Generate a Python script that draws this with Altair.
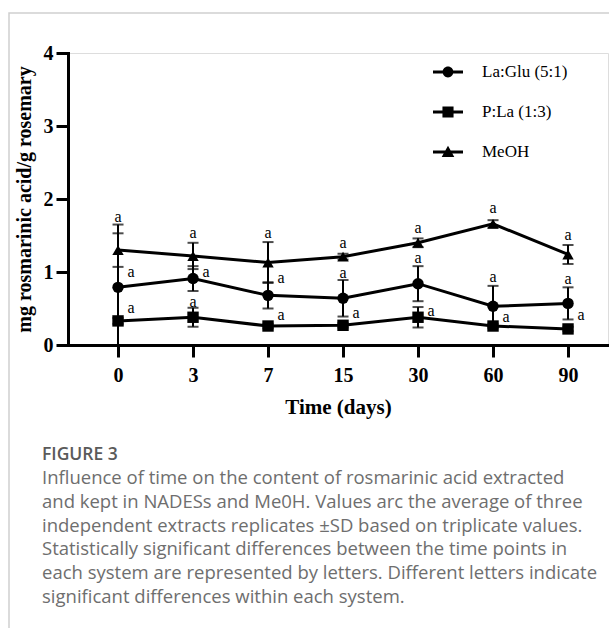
import json
import altair as alt
import pandas as pd

# ---------------- data ----------------
days = ["0", "3", "7", "15", "30", "60", "90"]
series = ["La:Glu (5:1)", "P:La (1:3)", "MeOH"]

laglu_mean = [0.79, 0.91, 0.68, 0.64, 0.84, 0.53, 0.57]
laglu_sd = [0.86, 0.17, 0.18, 0.25, 0.24, 0.28, 0.22]
pla_mean = [0.33, 0.38, 0.26, 0.27, 0.38, 0.26, 0.22]
pla_sd = [0.04, 0.13, 0.03, 0.03, 0.14, 0.03, 0.03]
meoh_mean = [1.30, 1.22, 1.13, 1.21, 1.40, 1.66, 1.24]
meoh_sd = [0.23, 0.18, 0.28, 0.04, 0.06, 0.05, 0.13]

# significance letters: time-point index, value at which the letter sits, side
letter_idx = [0, 0, 0, 1, 1, 1, 2, 2, 2, 3, 3, 3, 4, 4, 4, 5, 5, 5, 6, 6, 6]
letter_value = [1.75, 1.00, 0.51, 1.53, 1.00, 0.59, 1.53, 0.92, 0.41,
                1.40, 0.99, 0.44, 1.60, 1.19, 0.47, 1.88, 0.93, 0.38,
                1.51, 0.90, 0.41]
letter_side = ["top", "right", "right", "top", "right", "top", "top", "right", "right",
               "top", "top", "right", "top", "top", "right", "top", "top", "right",
               "top", "top", "right"]
letter_text = ["a"] * 21

caption_title = "FIGURE 3"
caption_lines = [
    "Influence of time on the content of rosmarinic acid extracted",
    "and kept in NADESs and Me0H. Values arc the average of three",
    "independent extracts replicates \u00b1SD based on triplicate values.",
    "Statistically significant differences between the time points in",
    "each system are represented by letters. Different letters indicate",
    "significant differences within each system.",
]

# ---------------- tables ----------------
rows = []
for name, means, sds in [(series[0], laglu_mean, laglu_sd),
                         (series[1], pla_mean, pla_sd),
                         (series[2], meoh_mean, meoh_sd)]:
    for i, (m, s) in enumerate(zip(means, sds)):
        rows.append({"i": i, "day": days[i], "series": name, "mean": m,
                     "lo": max(0.0, m - s), "hi": m + s})
df = pd.DataFrame(rows)

letters = pd.DataFrame({"i": letter_idx, "v": letter_value,
                        "side": letter_side, "t": letter_text})

SERIF = "Liberation Serif"
SANS = "Open Sans"
label_expr = json.dumps(days) + "[datum.value]"

x_scale = alt.Scale(domain=[-0.667, 6.533], nice=False, zero=False)
y_scale = alt.Scale(domain=[0, 4], nice=False)

x_axis = alt.Axis(values=list(range(len(days))), labelExpr=label_expr, titlePadding=11,
                  labelPadding=8, titleFontSize=21)
y_axis = alt.Axis(values=[0, 1, 2, 3, 4], format="d", titlePadding=9, labelPadding=3,
                  titleFontSize=20)
Y_TITLE = "mg rosmarinic acid/g rosemary"

x_enc = alt.X("i:Q", scale=x_scale, title="Time (days)", axis=x_axis)
y_enc = alt.Y("mean:Q", scale=y_scale, title=Y_TITLE, axis=y_axis)

base = alt.Chart(df)

lines = base.mark_line(color="black", strokeWidth=3).encode(
    x=x_enc, y=y_enc, detail="series:N")

err = base.mark_rule(color="black", strokeWidth=2).encode(
    x=x_enc, y=alt.Y("lo:Q", scale=y_scale, title=Y_TITLE, axis=y_axis), y2="hi:Q")
cap_hi = base.mark_tick(color="black", orient="horizontal", size=11, thickness=2).encode(
    x=x_enc, y=alt.Y("hi:Q", scale=y_scale, title=Y_TITLE, axis=y_axis))
cap_lo = base.mark_tick(color="black", orient="horizontal", size=11, thickness=2).encode(
    x=x_enc, y=alt.Y("lo:Q", scale=y_scale, title=Y_TITLE, axis=y_axis))

points = base.mark_point(filled=True, color="black", opacity=1, size=130).encode(
    x=x_enc, y=y_enc,
    shape=alt.Shape("series:N",
                    scale=alt.Scale(domain=series, range=["circle", "square", "triangle-up"]),
                    legend=None))

# legend symbols: a line segment (thin filled bar) with the marker on it
bar = "M-1,-0.1L1,-0.1L1,0.1L-1,0.1Z"
circ = bar + "M0.36,0A0.36,0.36 0 1,1 -0.36,0A0.36,0.36 0 1,1 0.36,0Z"
sq = bar + "M-0.37,-0.37L0.37,-0.37L0.37,0.37L-0.37,0.37Z"
tri = bar + "M0,-0.42L0.42,0.33L-0.42,0.33Z"

legend_layer = base.mark_point(filled=True, color="black", opacity=0).encode(
    x=x_enc, y=y_enc,
    shape=alt.Shape("series:N",
                    scale=alt.Scale(domain=series, range=[circ, sq, tri]),
                    legend=alt.Legend(title=None, orient="none", legendX=365, legendY=4,
                                      symbolSize=900, symbolStrokeWidth=0,
                                      symbolFillColor="black", symbolStrokeColor="black",
                                      symbolOpacity=1, labelFont=SERIF, labelFontSize=17,
                                      labelColor="black", labelOffset=19, rowPadding=17,
                                      padding=0, labelLimit=300)))

top_letters = alt.Chart(letters).transform_filter("datum.side == 'top'").mark_text(
    font=SERIF, fontSize=16, color="black", baseline="middle", align="center").encode(
    x=alt.X("i:Q", scale=x_scale), y=alt.Y("v:Q", scale=y_scale), text="t:N")
right_letters = alt.Chart(letters).transform_filter("datum.side == 'right'").mark_text(
    font=SERIF, fontSize=16, color="black", baseline="middle", align="center", dx=13).encode(
    x=alt.X("i:Q", scale=x_scale), y=alt.Y("v:Q", scale=y_scale), text="t:N")

border = alt.Chart(pd.DataFrame({"k": [0]})).mark_rect(
    fill=None, stroke="#cfcfcf", strokeWidth=1.5).encode(
    x=alt.value(-59), x2=alt.value(600), y=alt.value(-40), y2=alt.value(640))

cap_df = pd.DataFrame({"head": [caption_title], "body": ["\n".join(caption_lines)]})
cap_head = alt.Chart(cap_df).mark_text(
    font=SANS, fontSize=17.5, fontWeight=600, color="#5a5a5a", align="left",
    baseline="alphabetic").encode(x=alt.value(-26), y=alt.value(407), text="head:N")
cap_body = alt.Chart(cap_df).mark_text(
    font=SANS, fontSize=18.5, color="#6e6e6e", align="left", baseline="alphabetic",
    lineBreak="\n", lineHeight=23.8).encode(x=alt.value(-26), y=alt.value(431), text="body:N")

chart = alt.layer(
    border, lines, err, cap_hi, cap_lo, points, legend_layer, top_letters, right_letters,
    cap_head, cap_body
).resolve_scale(shape="independent").properties(
    width=540, height=292,
    autosize=alt.AutoSizeParams(type="none"),
    padding={"left": 68, "top": 53, "right": 1, "bottom": 283},
).configure_view(stroke=None).configure(background="white").configure_axis(
    grid=False, domainWidth=3, domainColor="black", domainCap="square",
    tickWidth=3, tickSize=12, tickColor="black",
    labelFont=SERIF, labelFontWeight="bold", labelFontSize=20, labelColor="black",
    titleFont=SERIF, titleFontWeight="bold", titleFontSize=20, titleColor="black")

chart.save("out.html", embed_options={"renderer": "svg", "actions": False})
